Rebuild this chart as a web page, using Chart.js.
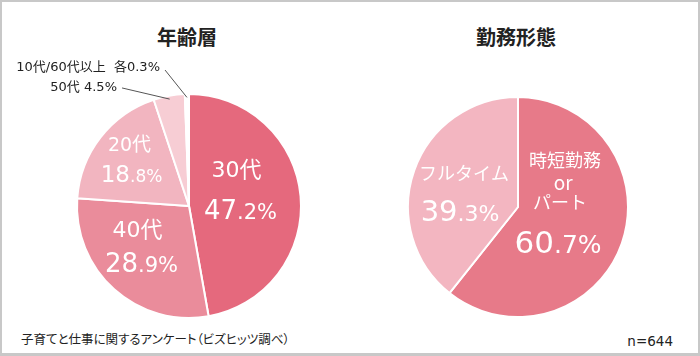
<!DOCTYPE html>
<html><head><meta charset="utf-8">
<script src="https://cdn.jsdelivr.net/npm/chart.js@4"></script>
<style>
html,body{margin:0;padding:0;background:#fff;}
body{width:700px;height:356px;position:relative;overflow:hidden;font-family:"Noto Sans CJK JP","Noto Sans",sans-serif;color:#222;}
#frame{position:absolute;left:0;top:0;width:696px;height:351px;border:2px solid #c8c8c8;border-bottom-width:3px;}
.t{position:absolute;white-space:nowrap;line-height:1;}
.title{font-size:20px;font-weight:bold;transform:translate(-50%,-50%);}
.note{font-feature-settings:"palt";}
canvas{position:absolute;}
</style></head>
<body>
<div id="frame"></div>
<div class="t title" style="left:187px;top:37px;">年齢層</div>
<div class="t title" style="left:516px;top:37px;">勤務形態</div>
<div class="t note" style="left:21px;top:333px;font-size:12.5px;">子育てと仕事に関するアンケート（ビズヒッツ調べ）</div>
<div class="t" style="right:27px;top:335px;font-size:13.5px;font-family:'DejaVu Sans',sans-serif;">n=644</div>
<canvas id="age" width="350" height="290" style="left:0px;top:50px;"></canvas>
<canvas id="work" width="222" height="222" style="left:407px;top:96px;"></canvas>
<script>
// ---- data ----
const ageLabels = ['30代', '40代', '20代', '50代', '10代', '60代以上'];
const ageValues = [47.2, 28.9, 18.8, 4.5, 0.3, 0.3];
const workLabels = ['時短勤務 or パート', 'フルタイム'];
const workValues = [60.7, 39.3];

// ---- styles ----
const ageColors = ['#E5697D', '#EA8C9B', '#F2B5C0', '#F7CDD4', '#FBE0E5', '#FDEEF1'];
const workColors = ['#E77A89', '#F3B6C1'];
const FONT = '"DejaVu Sans","Noto Sans CJK JP",sans-serif';
const JFONT = '"Noto Sans CJK JP","Noto Sans",sans-serif';

function splitValue(v) {
  const s = v.toFixed(1);
  const k = s.indexOf('.');
  return [s.slice(0, k), s.slice(k) + '%'];
}

const sliceLabels = {
  id: 'sliceLabels',
  afterDatasetsDraw(chart, args, opts) {
    const ctx = chart.ctx;
    const meta = chart.getDatasetMeta(0);
    const arcs = meta.data;
    const cx = arcs[0].x, cy = arcs[0].y, r = arcs[0].outerRadius;
    const vals = chart.data.datasets[0].data;
    ctx.save();
    // inside labels
    ctx.fillStyle = '#fff';
    (opts.inside || []).forEach(L => {
      L.names.forEach(n => {
        ctx.font = n.size + 'px ' + (n.jp ? JFONT : FONT);
        ctx.textAlign = 'center';
        ctx.textBaseline = 'middle';
        ctx.fillText(n.text, cx + n.at[0] * r, cy + n.at[1] * r);
      });
      const [ip, dp] = splitValue(vals[L.index]);
      ctx.font = L.intSize + 'px ' + FONT;
      const wi = ctx.measureText(ip).width;
      ctx.font = L.decSize + 'px ' + FONT;
      const wd = ctx.measureText(dp).width;
      const x0 = cx + L.valueAt[0] * r - (wi + wd) / 2;
      const base = cy + L.valueAt[1] * r + L.intSize * 0.36;
      ctx.textAlign = 'left';
      ctx.textBaseline = 'alphabetic';
      ctx.font = L.intSize + 'px ' + FONT;
      ctx.fillText(ip, x0, base);
      ctx.font = L.decSize + 'px ' + FONT;
      ctx.fillText(dp, x0 + wi, base);
    });
    // outside labels with leader lines
    (opts.outside || []).forEach(O => {
      const s = arcs[O.from[0]].startAngle, e = arcs[O.from[1]].endAngle;
      const mid = (s + e) / 2;
      const px = cx + Math.cos(mid) * r * 0.97, py = cy + Math.sin(mid) * r * 0.97;
      ctx.strokeStyle = '#555';
      ctx.lineWidth = 1;
      ctx.beginPath();
      ctx.moveTo(cx + O.lineFrom[0] * r, cy + O.lineFrom[1] * r);
      ctx.lineTo(px, py);
      ctx.stroke();
      ctx.fillStyle = '#222';
      ctx.font = O.size + 'px ' + FONT;
      ctx.textAlign = 'right';
      ctx.textBaseline = 'middle';
      ctx.fillText(O.text, cx + O.textAt[0] * r, cy + O.textAt[1] * r);
    });
    ctx.restore();
  }
};

const commonPlugins = { legend: { display: false }, tooltip: { enabled: false } };

new Chart(document.getElementById('age'), {
  type: 'pie',
  data: {
    labels: ageLabels,
    datasets: [{ data: ageValues, backgroundColor: ageColors, borderColor: '#fff', borderWidth: 2, hoverBorderWidth: 2, hoverOffset: 0 }]
  },
  options: {
    responsive: false,
    animation: false,
    events: [],
    layout: { padding: { left: 76, top: 43, right: 48, bottom: 21 } },
    plugins: Object.assign({}, commonPlugins, {
      sliceLabels: {
        inside: [
          { index: 0, names: [{ text: ageLabels[0], at: [0.424, -0.31], size: 22 }], valueAt: [0.46, 0.03], intSize: 26, decSize: 21 },
          { index: 2, names: [{ text: ageLabels[2], at: [-0.531, -0.535], size: 19 }], valueAt: [-0.513, -0.285], intSize: 23, decSize: 17 },
          { index: 1, names: [{ text: ageLabels[1], at: [-0.46, 0.225], size: 22 }], valueAt: [-0.424, 0.51], intSize: 26, decSize: 21 }
        ],
        outside: [
          { from: [3, 3], text: ageLabels[3] + ' ' + ageValues[3] + '%', textAt: [-0.643, -1.054], lineFrom: [-0.598, -1.054], size: 13 },
          { from: [4, 5], text: ageLabels[4] + '/' + ageLabels[5] + '  各' + ageValues[4] + '%', textAt: [-0.259, -1.232], lineFrom: [-0.214, -1.214], size: 13 }
        ]
      }
    })
  },
  plugins: [sliceLabels]
});

const workNameLines = workLabels[0].split(' ');
new Chart(document.getElementById('work'), {
  type: 'pie',
  data: {
    labels: workLabels,
    datasets: [{ data: workValues, backgroundColor: workColors, borderColor: '#fff', borderWidth: 2, hoverBorderWidth: 2, hoverOffset: 0 }]
  },
  options: {
    responsive: false,
    animation: false,
    events: [],
    layout: { padding: 0 },
    plugins: Object.assign({}, commonPlugins, {
      sliceLabels: {
        inside: [
          { index: 0, names: [
              { text: workNameLines[0], at: [0.427, -0.423], size: 18, jp: true },
              { text: workNameLines[1], at: [0.41, -0.22], size: 19, jp: true },
              { text: workNameLines[2], at: [0.382, -0.04], size: 18, jp: true }
            ], valueAt: [0.364, 0.318], intSize: 31, decSize: 25 },
          { index: 1, names: [{ text: workLabels[1], at: [-0.491, -0.309], size: 18, jp: true }], valueAt: [-0.527, 0.036], intSize: 29, decSize: 22 }
        ]
      }
    })
  },
  plugins: [sliceLabels]
});
</script>
</body></html>
